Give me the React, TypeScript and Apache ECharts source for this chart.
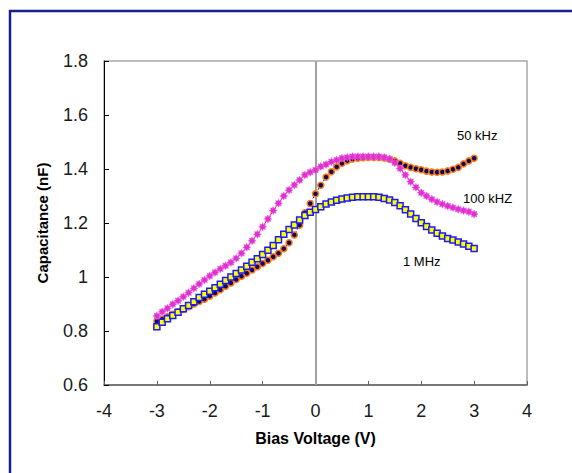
import React, { useEffect, useRef } from "react";
import * as echarts from "echarts";

const biasVoltage: number[] = [
  -3.0, -2.9, -2.8, -2.7, -2.6, -2.5, -2.4, -2.3, -2.2, -2.1,
  -2.0, -1.9, -1.8, -1.7, -1.6, -1.5, -1.4, -1.3, -1.2, -1.1,
  -1.0, -0.9, -0.8, -0.7, -0.6, -0.5, -0.4, -0.3, -0.2, -0.1,
  0.0, 0.1, 0.2, 0.3, 0.4, 0.5, 0.6, 0.7, 0.8, 0.9,
  1.0, 1.1, 1.2, 1.3, 1.4, 1.5, 1.6, 1.7, 1.8, 1.9,
  2.0, 2.1, 2.2, 2.3, 2.4, 2.5, 2.6, 2.7, 2.8, 2.9, 3.0,
];

const cap50kHz: number[] = [
  0.836, 0.844, 0.853, 0.862, 0.871, 0.880, 0.890, 0.900, 0.909, 0.918,
  0.929, 0.941, 0.953, 0.966, 0.978, 0.991, 1.003, 1.014, 1.026, 1.038,
  1.050, 1.062, 1.075, 1.088, 1.105, 1.127, 1.156, 1.192, 1.238, 1.272,
  1.308, 1.340, 1.370, 1.390, 1.408, 1.421, 1.431, 1.437, 1.440, 1.442,
  1.443, 1.443, 1.443, 1.441, 1.436, 1.430, 1.421, 1.412, 1.406, 1.401,
  1.397, 1.392, 1.389, 1.388, 1.389, 1.393, 1.399, 1.406, 1.419, 1.430, 1.440,
];

const cap100kHz: number[] = [
  0.856, 0.871, 0.884, 0.899, 0.912, 0.927, 0.942, 0.958, 0.974, 0.989,
  1.004, 1.017, 1.030, 1.042, 1.054, 1.069, 1.088, 1.110, 1.134, 1.158,
  1.186, 1.215, 1.246, 1.273, 1.300, 1.322, 1.341, 1.359, 1.378, 1.388,
  1.396, 1.409, 1.417, 1.427, 1.433, 1.440, 1.443, 1.446, 1.446, 1.446,
  1.446, 1.446, 1.446, 1.443, 1.437, 1.423, 1.402, 1.378, 1.353, 1.332,
  1.312, 1.300, 1.288, 1.278, 1.270, 1.263, 1.257, 1.251, 1.246, 1.242, 1.233,
];

const cap1MHz: number[] = [
  0.816, 0.832, 0.845, 0.857, 0.869, 0.882, 0.894, 0.908, 0.924, 0.936,
  0.947, 0.960, 0.973, 0.987, 1.000, 1.013, 1.026, 1.040, 1.055, 1.068,
  1.083, 1.099, 1.117, 1.138, 1.158, 1.176, 1.193, 1.211, 1.228, 1.240,
  1.250, 1.260, 1.270, 1.278, 1.284, 1.289, 1.293, 1.295, 1.297, 1.297,
  1.297, 1.297, 1.295, 1.291, 1.285, 1.276, 1.264, 1.249, 1.233, 1.217,
  1.201, 1.187, 1.174, 1.162, 1.152, 1.143, 1.137, 1.130, 1.122, 1.114, 1.106,
];

const seriesNames: string[] = ["50 kHz", "100 kHZ", "1 MHz"];
const xTitle = "Bias Voltage (V)";
const yTitle = "Capacitance (nF)";

const FONT = 'Arial, "Liberation Sans", sans-serif';

function starPath(): string {
  const pts: string[] = [];
  for (let k = 0; k < 16; k++) {
    const a = (k * Math.PI) / 8 - Math.PI / 2;
    const r = k % 2 === 0 ? 10 : 6;
    const x = (10 + r * Math.cos(a)).toFixed(2);
    const y = (10 + r * Math.sin(a)).toFixed(2);
    pts.push((k === 0 ? "M" : "L") + x + " " + y);
  }
  return "path://" + pts.join(" ") + " Z";
}

function pair(vals: number[]): number[][] {
  return biasVoltage.map((v, i) => [v, vals[i]]);
}

export default function App() {
  const ref = useRef<HTMLDivElement>(null);
  useEffect(() => {
    if (!ref.current) return;
    const chart = echarts.init(ref.current, null, { renderer: "svg" });
    chart.setOption({
      animation: false,
      backgroundColor: "#ffffff",
      grid: {
        left: 104,
        right: 45,
        top: 61,
        bottom: 88,
        show: true,
        borderColor: "#a8a8a8",
        borderWidth: 1.5,
        backgroundColor: "transparent",
      },
      xAxis: {
        type: "value",
        min: -4,
        max: 4,
        interval: 1,
        name: xTitle,
        nameLocation: "middle",
        nameGap: 45,
        nameTextStyle: { fontFamily: FONT, fontWeight: "bold", fontSize: 16, color: "#000" },
        axisLine: { show: true, onZero: false, lineStyle: { color: "#606060", width: 1.5 } },
        axisTick: { show: true, inside: true, length: 4, lineStyle: { color: "#606060" } },
        axisLabel: { fontFamily: FONT, fontSize: 18, color: "#1a1a1a", margin: 17 },
        splitLine: { show: false },
      },
      yAxis: {
        type: "value",
        min: 0.6,
        max: 1.8,
        interval: 0.2,
        name: yTitle,
        nameLocation: "middle",
        nameGap: 54,
        nameRotate: 90,
        nameTextStyle: { fontFamily: FONT, fontWeight: "bold", fontSize: 15, color: "#000" },
        axisLine: { show: true, onZero: false, lineStyle: { color: "#000", width: 1 } },
        axisTick: { show: true, inside: true, length: 5, lineStyle: { color: "#000" } },
        axisLabel: {
          fontFamily: FONT,
          fontSize: 18,
          color: "#1a1a1a",
          margin: 16,
          formatter: (v: number) => String(parseFloat(v.toFixed(1))),
        },
        splitLine: { show: false },
      },
      series: [
        {
          name: seriesNames[0],
          type: "line",
          data: pair(cap50kHz),
          symbol: "circle",
          symbolSize: 6,
          itemStyle: { color: "#0a0a60", borderColor: "#ff7a1a", borderWidth: 1.5 },
          lineStyle: { color: "#1a1a90", width: 1, type: [3, 2] },
          z: 3,
          markLine: {
            silent: true,
            symbol: "none",
            label: { show: false },
            lineStyle: { color: "#a0a0a0", width: 2, type: "solid" },
            data: [{ xAxis: 0 }],
            z: 1,
          },
        },
        {
          name: seriesNames[2],
          type: "line",
          data: pair(cap1MHz),
          symbol: "rect",
          symbolSize: 6,
          itemStyle: { color: "#ffff00", borderColor: "#1a1aff", borderWidth: 1.5 },
          lineStyle: { color: "#2020ff", width: 1 },
          z: 4,
        },
        {
          name: seriesNames[1],
          type: "line",
          data: pair(cap100kHz),
          symbol: starPath(),
          symbolSize: 8,
          itemStyle: { color: "#e030d0", borderColor: "#f060e8", borderWidth: 0.5 },
          lineStyle: { color: "#ff2020", width: 1 },
          z: 5,
        },
      ],
      graphic: [
        {
          type: "rect",
          shape: { x: 10, y: 11, width: 700, height: 600 },
          style: { fill: "none", stroke: "#1c1c8e", lineWidth: 2.5 },
          silent: true,
          z: 100,
        },
        {
          type: "text",
          left: 457,
          top: 129,
          style: { text: seriesNames[0], fontFamily: FONT, fontSize: 13, fill: "#000" },
        },
        {
          type: "text",
          left: 463,
          top: 192,
          style: { text: seriesNames[1], fontFamily: FONT, fontSize: 13, fill: "#000" },
        },
        {
          type: "text",
          left: 403,
          top: 255,
          style: { text: seriesNames[2], fontFamily: FONT, fontSize: 13, fill: "#000" },
        },
      ],
    });
    return () => chart.dispose();
  }, []);
  return <div ref={ref} style={{ width: 572, height: 473, position: "absolute", left: 0, top: 0 }} />;
}
